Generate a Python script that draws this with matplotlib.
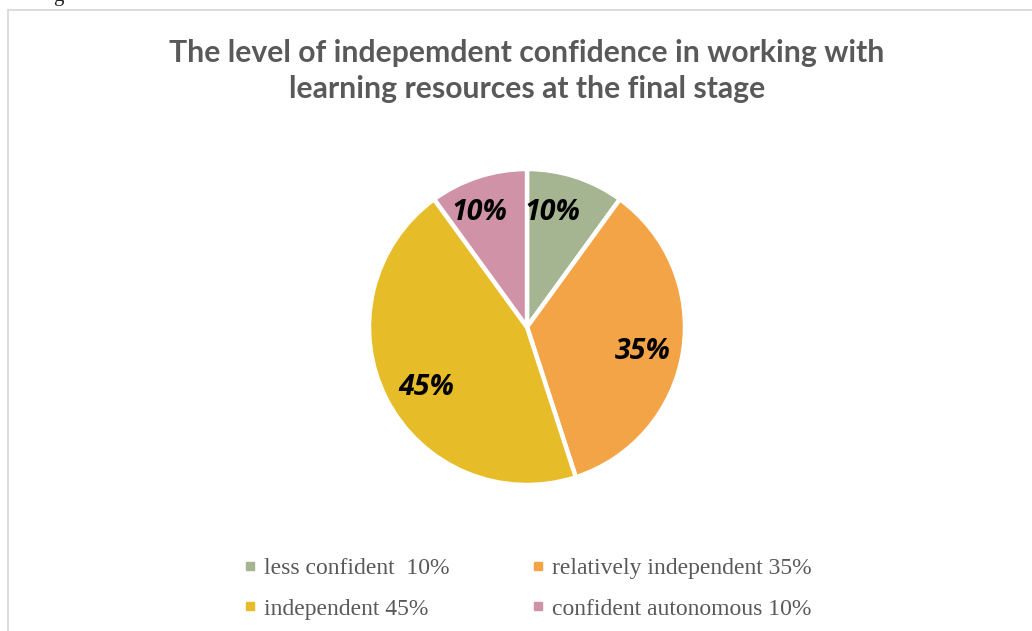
import matplotlib
matplotlib.use("Agg")
import matplotlib.pyplot as plt
from matplotlib.patches import Rectangle
from matplotlib.lines import Line2D

# Data
categories = ["less confident  10%", "relatively independent 35%",
              "independent 45%", "confident autonomous 10%"]
shares = [10, 35, 45, 10]
colors = ["#A5B592", "#F3A447", "#E7BC29", "#D092A7"]
title = "The level of indepemdent confidence in working with\nlearning resources at the final stage"

W, H = 1032, 631
fig = plt.figure(figsize=(W / 100, H / 100), dpi=100)
fig.patch.set_facecolor("white")

def fx(px):
    return px / W

def fy(py):
    return 1 - py / H

# chart-area frame
fig.patches.append(Rectangle((fx(7.5), fy(640)), fx(1040), fy(9.5) - fy(640),
                             transform=fig.transFigure, fill=False,
                             edgecolor="#D9D9D9", linewidth=1.3))

# descender of the caption line above the chart
fig.text(fx(53), fy(1), "g", family="Liberation Serif", fontsize=15,
         color="#222222", ha="left", va="baseline")

# title
fig.text(fx(527), fy(71), title, family="Lato", fontweight="bold",
         fontsize=21.7, color="#595959", ha="center", va="center",
         linespacing=1.38)

# pie
cx, cy, r = 527, 327, 158
ax = fig.add_axes([fx(cx - r), fy(cy + r), 2 * r / W, 2 * r / H])
wedges, texts, autotexts = ax.pie(
    shares, colors=colors, startangle=90, counterclock=False,
    autopct=lambda p: f"{p:.0f}%", pctdistance=0.74,
    wedgeprops=dict(edgecolor="white", linewidth=3.2),
    textprops=dict(family="Open Sans", fontweight="bold", fontstyle="italic",
                   fontsize=20.5, color="black"))
# nudge labels to sit like the original layout
shifts = [(-0.07, 0.02), (0.0, -0.04), (0.02, -0.05), (-0.07, 0.02)]
for t, (dx, dy) in zip(autotexts, shifts):
    x, y = t.get_position()
    t.set_position((x + dx, y + dy))
ax.set_xlim(-1, 1)
ax.set_ylim(-1, 1)
ax.set_aspect("equal")
ax.axis("off")

# legend, filled row by row
order = [0, 2, 1, 3]
handles = [Line2D([], [], marker="s", linestyle="none", markersize=5.5,
                  markerfacecolor=colors[i], markeredgecolor=colors[i])
           for i in order]
labels = [categories[i] for i in order]
leg = fig.legend(handles, labels, ncol=2, loc="center",
                 bbox_to_anchor=(fx(527.5), fy(588.5)), frameon=False,
                 prop=dict(family="Liberation Serif", size=17),
                 handlelength=0.55, handletextpad=0.3, columnspacing=3.5,
                 labelspacing=0.82)
for t in leg.get_texts():
    t.set_color("#595959")

fig.savefig("out.png", dpi=100, facecolor="white")
